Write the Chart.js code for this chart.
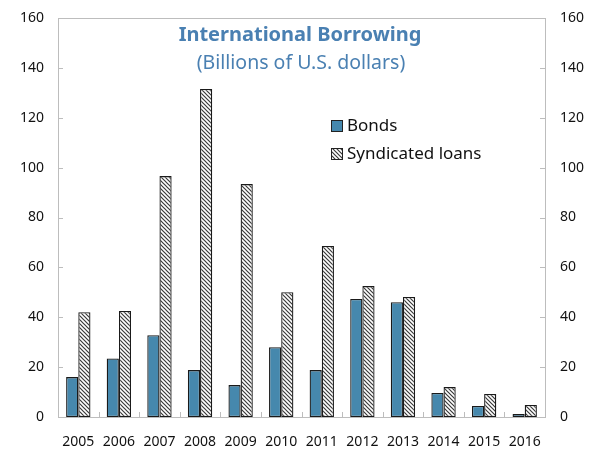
<!DOCTYPE html>
<html>
<head>
<meta charset="utf-8">
<script src="https://cdn.jsdelivr.net/npm/chart.js@4"></script>
<style>
  html, body { margin: 0; padding: 0; background: #fff; }
  #wrap { width: 591px; height: 449px; position: relative; }
</style>
</head>
<body>
<div id="wrap"><canvas id="myChart"></canvas></div>
<script>
var years = ['2005','2006','2007','2008','2009','2010','2011','2012','2013','2014','2015','2016'];
var bonds = [16.0, 23.5, 32.8, 18.8, 12.8, 28.0, 18.8, 47.3, 46.0, 9.6, 4.4, 1.2];
var syndicatedLoans = [42.0, 42.5, 96.6, 131.5, 93.4, 50.0, 68.6, 52.5, 48.1, 12.0, 9.2, 4.8];
var yTicks = [0, 20, 40, 60, 80, 100, 120, 140, 160];

var titleText = 'International Borrowing';
var subtitleText = '(Billions of U.S. dollars)';
var fontFamily = '"Noto Sans", "Open Sans", sans-serif';
var blue = '#4688ad';
var titleBlue = '#4a80b2';
var axisGray = '#bdbdbd';

// diagonal hatch for the loans bars
function makeHatch() {
  var size = 4;
  var c = document.createElement('canvas');
  c.width = size;
  c.height = size;
  var g = c.getContext('2d');
  g.fillStyle = '#ffffff';
  g.fillRect(0, 0, size, size);
  g.strokeStyle = '#3a3a3a';
  g.lineWidth = 1.2;
  g.beginPath();
  g.moveTo(-1, -1); g.lineTo(size + 1, size + 1);
  g.moveTo(-1, size - 1); g.lineTo(1, size + 1);
  g.moveTo(size - 1, -1); g.lineTo(size + 1, 1);
  g.stroke();
  return g.createPattern(c, 'repeat');
}
var hatch = makeHatch();

function fixY(width) {
  return function(scale) {
    scale.width = width;
    scale.paddingTop = 0;
    scale.paddingBottom = 0;
  };
}

// frame, inward tick marks, title and legend
var decorPlugin = {
  id: 'decor',
  beforeDatasetsDraw: function(chart) {
    var ctx = chart.ctx;
    var area = chart.chartArea;
    var y = chart.scales.y;
    var x = chart.scales.x;
    ctx.save();
    ctx.strokeStyle = axisGray;
    ctx.lineWidth = 1;
    ctx.strokeRect(Math.round(area.left) + 0.5, Math.round(area.top) + 0.5,
      Math.round(area.right - area.left), Math.round(area.bottom - area.top));

    ctx.beginPath();
    yTicks.forEach(function(v) {
      var py = Math.round(y.getPixelForValue(v)) + 0.5;
      ctx.moveTo(area.left, py); ctx.lineTo(area.left + 5, py);
      ctx.moveTo(area.right, py); ctx.lineTo(area.right - 5, py);
    });
    for (var i = 1; i < years.length; i++) {
      var px = Math.round((x.getPixelForValue(i - 1) + x.getPixelForValue(i)) / 2) + 0.5;
      ctx.moveTo(px, area.bottom); ctx.lineTo(px, area.bottom - 5);
    }
    ctx.stroke();
    ctx.restore();
  },
  afterDraw: function(chart) {
    var ctx = chart.ctx;
    ctx.save();
    // title
    ctx.fillStyle = titleBlue;
    ctx.textAlign = 'center';
    ctx.textBaseline = 'middle';
    ctx.font = 'bold 20px ' + fontFamily;
    ctx.fillText(titleText, 300, 35);
    ctx.font = '19.5px ' + fontFamily;
    ctx.fillText(subtitleText, 301, 63);

    // legend
    ctx.textAlign = 'left';
    ctx.font = '17px ' + fontFamily;
    var rows = [126, 154];
    chart.data.datasets.forEach(function(ds, i) {
      var cy = rows[i];
      ctx.fillStyle = ds.backgroundColor;
      ctx.fillRect(331, cy - 6, 12, 12);
      ctx.strokeStyle = '#222';
      ctx.lineWidth = 1;
      ctx.strokeRect(331.5, cy - 5.5, 11, 11);
      ctx.fillStyle = '#111';
      ctx.fillText(ds.label, 347, cy);
    });
    ctx.restore();
  }
};

var ctx = document.getElementById('myChart').getContext('2d');
var myChart = new Chart(ctx, {
  type: 'bar',
  data: {
    labels: years,
    datasets: [{
      label: 'Bonds',
      data: bonds,
      backgroundColor: blue,
      borderColor: '#1a1a1a',
      borderWidth: 1.3,
      borderSkipped: false
    }, {
      label: 'Syndicated loans',
      data: syndicatedLoans,
      backgroundColor: hatch,
      borderColor: '#1a1a1a',
      borderWidth: 1.3,
      borderSkipped: false
    }]
  },
  options: {
    responsive: true,
    maintainAspectRatio: false,
    animation: false,
    layout: { padding: { top: 18 } },
    datasets: {
      bar: { categoryPercentage: 0.6, barPercentage: 1.0 }
    },
    plugins: {
      legend: { display: false },
      tooltip: { enabled: false }
    },
    scales: {
      x: {
        grid: { display: false },
        border: { display: false },
        ticks: { color: '#111', font: { family: fontFamily, size: 14 }, padding: 9, maxRotation: 0 },
        afterFit: function(scale) { scale.height = 32; }
      },
      y: {
        position: 'left',
        min: 0, max: 160,
        grid: { display: false, drawTicks: false },
        border: { display: false },
        ticks: { stepSize: 20, color: '#111', font: { family: fontFamily, size: 14 }, padding: 14 },
        afterFit: fixY(58)
      },
      y2: {
        position: 'right',
        display: true,
        min: 0, max: 160,
        grid: { display: false, drawTicks: false },
        border: { display: false },
        ticks: { stepSize: 20, color: '#111', font: { family: fontFamily, size: 14 }, padding: 15 },
        afterFit: fixY(46)
      }
    }
  },
  plugins: [decorPlugin]
});
</script>
</body>
</html>
